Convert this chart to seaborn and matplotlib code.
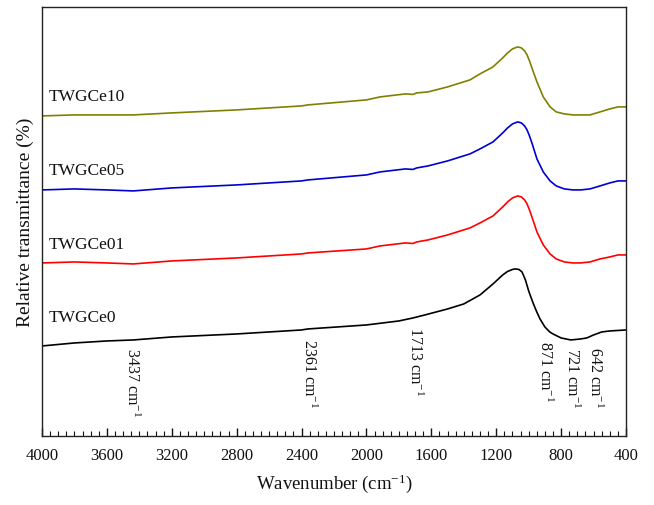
import numpy as np
import matplotlib
matplotlib.use("Agg")
import matplotlib.pyplot as plt
import seaborn as sns
from matplotlib.ticker import MultipleLocator

# DATA (relative transmittance, arbitrary offset units)
wn_black = [4000, 3800, 3600, 3437, 3200, 2800, 2400, 2361, 2000, 1800, 1713, 1640,
            1500, 1400, 1300, 1220, 1160, 1130, 1100, 1084, 1060, 1041, 1020, 1000,
            973, 950, 930, 900, 870, 850, 800, 740, 680, 642, 600, 550, 500, 400]
t_ce0 = [90, 93, 95, 96, 99, 102, 106, 107, 111, 115, 118, 121,
         127, 132, 141, 152, 161, 164.5, 166.5, 167, 166.5, 164, 156, 145,
         133, 124, 117, 109, 104, 102, 98, 96, 97, 98, 101, 104, 105, 106]

wn = [4000, 3800, 3600, 3437, 3200, 2800, 2400, 2361, 2000, 1916, 1760, 1713,
      1690, 1620, 1500, 1362, 1300, 1220, 1160, 1130, 1100, 1068, 1045, 1025,
      1010, 995, 980, 949, 910, 868, 830, 780, 727, 680, 622, 560, 500, 450, 400]
t_ce01 = [173, 174, 173, 172, 175, 178, 182, 183, 187, 190, 193, 192.5,
          194, 196, 201, 208, 213, 220, 229, 234, 238, 240, 239, 236,
          232, 226, 219, 204, 191, 182, 177, 174, 173, 173, 174, 177, 179, 181, 181]
t_ce05 = [246, 247, 246, 245, 248, 251, 255, 256, 261, 264, 267, 266.5,
          268, 270, 275, 282, 287, 294, 303, 308, 312, 314, 313, 310,
          306, 300, 293, 277, 264, 255, 250, 247, 246, 246, 247, 250, 253, 255, 255]
t_ce10 = [320, 321, 321, 321, 323, 326, 330, 331, 336, 339, 342, 341.5,
          343, 344, 349, 356, 362, 369, 378, 383, 387, 389, 388, 385,
          381, 375, 368, 354, 339, 329, 324, 322, 321, 321, 321, 324, 327, 329, 329]

names = ["TWGCe0", "TWGCe01", "TWGCe05", "TWGCe10"]
colors = ["#000000", "#ff0000", "#0000d0", "#808000"]
label_y = [111, 184, 258, 332]

peaks = ["3437", "2361", "1713", "871", "721", "642"]
peak_x = [3450, 2355, 1702, 900, 735, 592]
peak_y = [89, 98, 110, 96, 89, 90]

sns.set_theme(style="ticks")
plt.rcParams["font.family"] = ["Liberation Serif", "DejaVu Serif"]
plt.rcParams["mathtext.fontset"] = "custom"
plt.rcParams["mathtext.rm"] = "Liberation Serif"
plt.rcParams["mathtext.it"] = "Liberation Serif:italic"

fig = plt.figure(figsize=(6.54, 5.06), dpi=100)
ax = fig.add_axes([0.0642, 0.1364, 0.893, 0.848])

series = [(wn_black, t_ce0), (wn, t_ce01), (wn, t_ce05), (wn, t_ce10)]
for (x, y), c in zip(series, colors):
    sns.lineplot(x=x, y=y, color=c, linewidth=1.2, ax=ax)

for name, ly in zip(names, label_y):
    ax.text(3960, ly, name, fontsize=12.5, color="#111111", va="bottom", ha="left")

for p, px, py in zip(peaks, peak_x, peak_y):
    ax.text(px, py, p + r" cm$^{-1}$", rotation=270, fontsize=11.5,
            ha="center", va="top", color="#111111")

ax.set_xlim(4000, 400)
ax.set_ylim(0, 429)
ax.xaxis.set_major_locator(MultipleLocator(400))
ax.xaxis.set_minor_locator(MultipleLocator(50))
ax.tick_params(axis="x", which="major", direction="in", length=6, width=1,
               labelsize=12, colors="#111111", pad=8)
ax.tick_params(axis="x", which="minor", direction="in", length=3.5, width=0.8,
               colors="#111111")
ax.set_yticks([])
for s in ax.spines.values():
    s.set_visible(True)
    s.set_color("#222222")
    s.set_linewidth(1.0)

ax.set_xlabel(r"Wavenumber (cm$^{-1}$)", fontsize=13.5, color="#111111", labelpad=6)
ax.set_ylabel("Relative transmittance (%)", fontsize=14, color="#111111", labelpad=6)

fig.savefig("out.png", dpi=100)
